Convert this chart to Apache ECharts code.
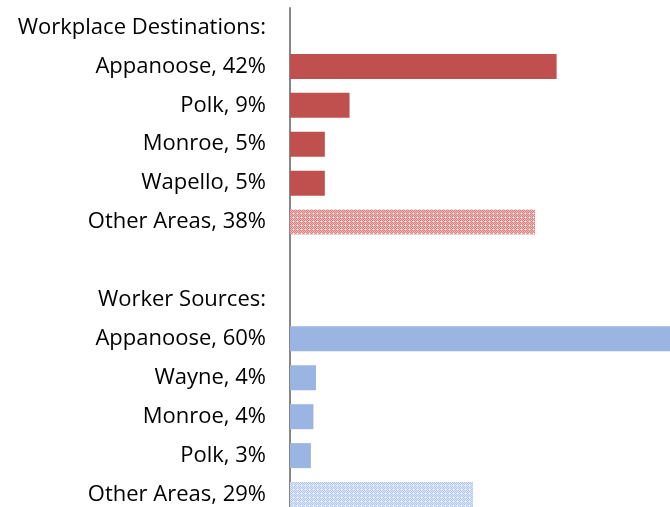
<!DOCTYPE html>
<html>
<head>
<meta charset="utf-8">
<script src="https://cdn.jsdelivr.net/npm/echarts@6/dist/echarts.min.js"></script>
<style>
  html, body { margin: 0; padding: 0; background: #fff; }
  #chart { width: 670px; height: 507px; }
</style>
</head>
<body>
<div id="chart"></div>
<script>
// rows from top to bottom
const categories = [
    'Workplace Destinations:',
    'Appanoose, 42%',
    'Polk, 9%',
    'Monroe, 5%',
    'Wapello, 5%',
    'Other Areas, 38%',
    '',
    'Worker Sources:',
    'Appanoose, 60%',
    'Wayne, 4%',
    'Monroe, 4%',
    'Polk, 3%',
    'Other Areas, 29%'
];
// bar lengths in percent (null = header / blank row)
const values = [null, 42.1, 9.4, 5.5, 5.5, 38.7, null, null, 60, 4.1, 3.7, 3.3, 28.9];
// 'r' = destinations, 'b' = sources, 'rp'/'bp' = other areas (patterned)
const groups = ['', 'r', 'r', 'r', 'r', 'rp', '', '', 'b', 'b', 'b', 'b', 'bp'];

function checker(c1, c2) {
    const cv = document.createElement('canvas');
    cv.width = 4;
    cv.height = 4;
    const ctx = cv.getContext('2d');
    ctx.fillStyle = c2;
    ctx.fillRect(0, 0, 4, 4);
    ctx.fillStyle = c1;
    for (let y = 0; y < 4; y++) {
        for (let x = 0; x < 4; x++) {
            if ((x + y) % 2 === 0) ctx.fillRect(x, y, 1, 1);
        }
    }
    ctx.fillStyle = '#ffffff';
    ctx.fillRect(1, 1, 1, 1);
    return { image: cv, repeat: 'repeat' };
}

const fills = {
    r: '#C0504D',
    b: '#9BB5E3',
    rp: checker('#D5807E', '#EDBDBC'),
    bp: checker('#B3C8EE', '#DCE6F8')
};

const barData = values.map((v, i) => ({
    value: v == null ? '-' : v,
    itemStyle: { color: fills[groups[i]] || 'transparent' }
}));

const chart = echarts.init(document.getElementById('chart'));
chart.setOption({
    animation: false,
    grid: { left: 290, right: 0, top: 8, height: 506, outerBoundsMode: 'none' },
    xAxis: {
        type: 'value',
        min: 0,
        max: 60,
        show: false
    },
    yAxis: {
        type: 'category',
        inverse: true,
        data: categories,
        axisLine: { show: true, lineStyle: { color: '#868686', width: 2 } },
        axisTick: { show: false },
        axisLabel: {
            margin: 24,
            color: '#000',
            fontFamily: 'Open Sans',
            fontSize: 22
        }
    },
    series: [{
        type: 'bar',
        data: barData,
        barWidth: 25
    }]
});
</script>
</body>
</html>
